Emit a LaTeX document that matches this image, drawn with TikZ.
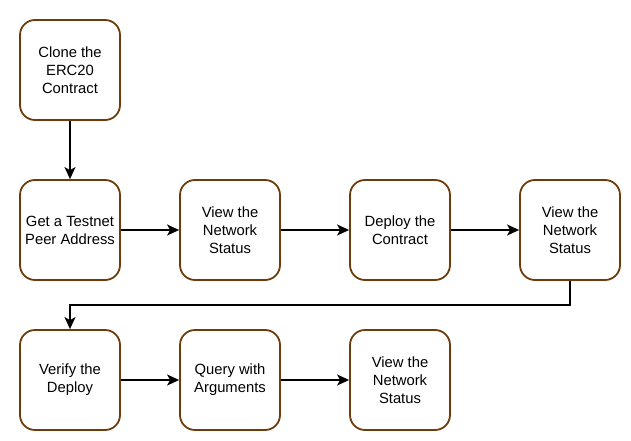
\documentclass[tikz,border=0pt]{standalone}
\usepackage{fontspec}
\setmainfont{Liberation Sans}
\usepackage{tikz}
\usetikzlibrary{arrows.meta,shapes,calc}
\definecolor{boxbrown}{RGB}{110,60,10}

\tikzset{
  stepbox/.style={draw=boxbrown, line width=1.8pt, rounded corners=15pt, minimum width=100pt, minimum height=100pt, align=center, font=\fontsize{14.8}{18}\selectfont, inner sep=2pt},
  link/.style={-{Stealth[length=12pt,width=11pt,inset=3pt]}, line width=1.6pt}
}

\begin{document}
\begin{tikzpicture}[x=1pt,y=-1pt]
\useasboundingbox (0,0) rectangle (631,441);
\node[stepbox] (clone) at (70,70) {Clone the\\ERC20\\Contract};
\node[stepbox] (peer) at (70,230) {Get a Testnet\\Peer Address};
\node[stepbox] (statusa) at (230,230) {View the\\Network\\Status};
\node[stepbox] (deploy) at (400,230) {Deploy the\\Contract};
\node[stepbox] (statusb) at (570,230) {View the\\Network\\Status};
\node[stepbox] (verify) at (70,380) {Verify the\\Deploy};
\node[stepbox] (query) at (230,380) {Query with\\Arguments};
\node[stepbox] (statusc) at (400,380) {View the\\Network\\Status};
\coordinate (bend) at (70,305);
\draw[link] (clone) -- (peer);
\draw[link] (peer) -- (statusa);
\draw[link] (statusa) -- (deploy);
\draw[link] (deploy) -- (statusb);
\draw[link] (statusb.south) |- (bend) -- (verify.north);
\draw[link] (verify) -- (query);
\draw[link] (query) -- (statusc);
\end{tikzpicture}
\end{document}
